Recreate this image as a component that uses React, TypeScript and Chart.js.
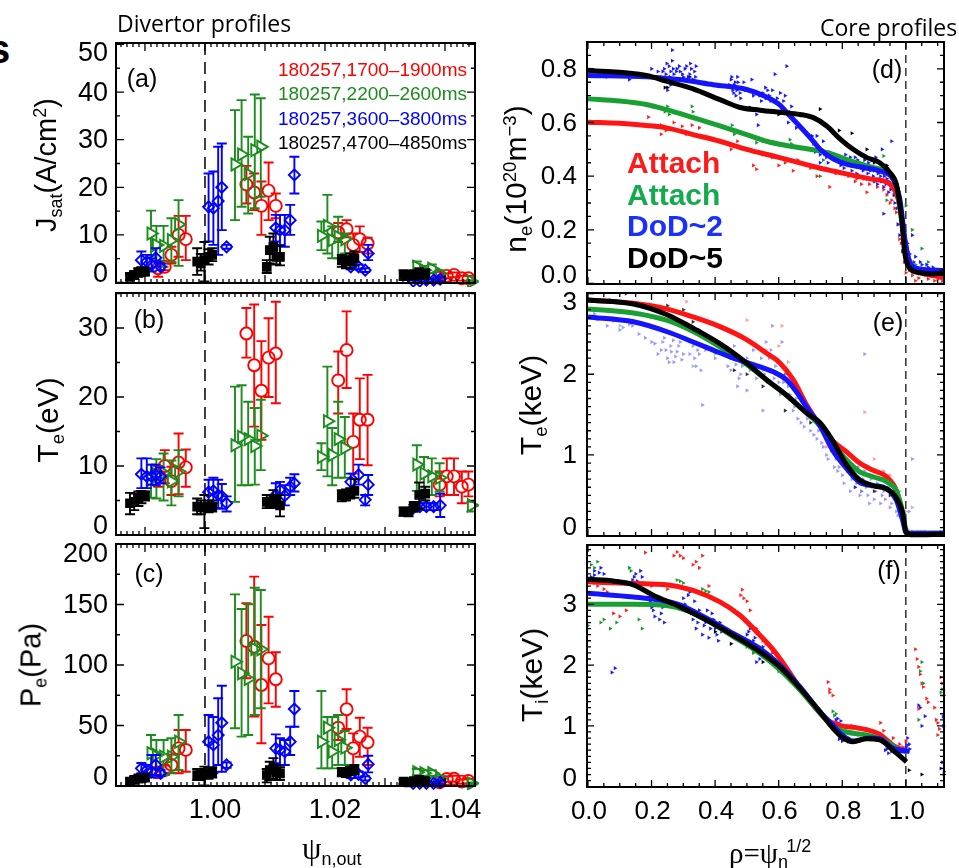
import { useEffect, useRef } from 'react';
import { Chart, registerables } from 'chart.js';

Chart.register(...registerables);

// ---------- Divertor Langmuir-probe data (outer target, psi_n) ----------
const psiRed = [0.9922, 0.9933, 0.9944, 0.9956, 0.9968, 1.0069, 1.0082, 1.0094, 1.0106, 1.0118, 1.0222, 1.0236, 1.0247, 1.0258, 1.0271, 1.0391, 1.0403, 1.0415, 1.0428, 1.0439];
const psiGreen = [0.991, 0.9919, 0.9931, 0.9944, 0.9956, 1.005, 1.0061, 1.0072, 1.0083, 1.0093, 1.0194, 1.0204, 1.0212, 1.0222, 1.0233, 1.0353, 1.0365, 1.0378, 1.0391, 1.0444];
const psiBlue = [0.9894, 0.9903, 0.9911, 0.9918, 0.9926, 1.0006, 1.0014, 1.0022, 1.0028, 1.0036, 1.0118, 1.0125, 1.0133, 1.0142, 1.0149, 1.0243, 1.0256, 1.0267, 1.0272, 1.0347, 1.0358, 1.0369, 1.0381, 1.0392];
const psiBlack = [0.9875, 0.9882, 0.9889, 0.9894, 0.99, 0.9987, 0.9993, 0.9999, 1.0006, 1.0012, 1.0103, 1.0108, 1.0114, 1.0119, 1.0125, 1.0228, 1.0235, 1.0242, 1.0249, 1.0331, 1.0339, 1.0348, 1.0357, 1.0367];

// J_sat (A/cm^2)
const jsatRed = [3.0, 3.3, 5.8, 10.0, 9.1, 20.6, 18.9, 16.1, 19.3, 16.1, 10.5, 11.2, 7.9, 9.1, 8.2, 1.0, 1.4, 1.6, 0.9, 0.9];
const jsatRedLo = [1.2, 2.6, 4.0, 5.4, 4.7, 16.6, 15.2, 10.0, 13.1, 13.5, 8.5, 9.5, 6.1, 6.4, 6.1, 0.5, 0.9, 1.1, 0.4, 0.4];
const jsatRedHi = [4.4, 4.0, 7.5, 14.0, 14.0, 24.5, 22.9, 21.2, 25.2, 18.7, 12.5, 13.1, 10.3, 11.8, 9.4, 1.5, 1.9, 2.1, 1.4, 1.4];
const jsatGreen = [10.3, 7.9, 7.7, 8.9, 12.2, 24.8, 26.9, 22.8, 27.8, 28.5, 9.8, 11.9, 8.9, 9.6, 9.1, 3.3, 2.6, 2.9, 1.9, 0.2];
const jsatGreenLo = [5.6, 4.7, 3.3, 4.3, 3.5, 13.1, 15.9, 14.5, 15.6, 18.0, 6.8, 6.1, 5.1, 5.1, 6.1, 2.3, 1.8, 2.0, 1.2, 0.0];
const jsatGreenHi = [15.1, 11.9, 11.9, 13.5, 17.3, 36.2, 38.3, 30.6, 39.5, 38.7, 12.8, 18.4, 11.8, 13.8, 10.3, 4.4, 3.5, 3.8, 2.6, 0.5];
const jsatBlue = [4.7, 4.4, 3.7, 5.2, 3.3, 15.9, 15.6, 17.1, 20.0, 7.5, 11.5, 11.0, 11.0, 13.1, 22.6, 3.3, 3.3, 2.6, 6.1, 0.3, 0.3, 0.5, 0.5, 0.7];
const jsatBlueLo = [3.0, 3.0, 2.3, 3.3, 2.6, 8.6, 7.9, 5.8, 11.0, 7.1, 8.6, 7.9, 7.5, 10.0, 18.7, 2.8, 2.8, 2.2, 4.7, 0.0, 0.0, 0.1, 0.1, 0.3];
const jsatBlueHi = [6.5, 5.8, 5.1, 7.2, 4.0, 22.9, 23.3, 28.5, 29.2, 7.9, 14.2, 14.2, 14.2, 16.3, 26.4, 3.8, 3.8, 3.0, 7.9, 0.6, 0.6, 0.9, 0.9, 1.1];
const jsatBlack = [1.2, 1.6, 2.1, 2.3, 2.3, 4.4, 4.0, 4.7, 5.4, 5.8, 3.3, 6.8, 7.5, 5.4, 5.4, 4.7, 4.4, 4.7, 5.1, 1.6, 1.4, 1.6, 1.9, 1.8];
const jsatBlackLo = [0.5, 0.8, 1.2, 1.4, 1.5, 1.6, 2.5, 0.2, 3.8, 4.5, 2.0, 4.0, 4.7, 3.8, 3.6, 3.3, 3.0, 3.0, 3.6, 0.5, 0.5, 0.5, 0.8, 0.8];
const jsatBlackHi = [1.9, 2.4, 3.0, 3.2, 3.1, 7.2, 6.0, 8.5, 7.0, 7.2, 4.7, 9.6, 10.3, 7.7, 7.7, 5.8, 5.5, 6.1, 6.5, 2.6, 2.4, 2.6, 3.0, 2.8];

// T_e at the target (eV)
const teDivRed = [8.5, 10.0, 7.8, 10.5, 9.8, 29.2, 24.6, 20.9, 25.7, 26.3, 22.4, 26.8, 13.5, 16.7, 16.7, 7.3, 8.5, 8.5, 7.0, 7.3];
const teDivRedLo = [7.0, 7.5, 5.8, 5.9, 7.0, 25.7, 15.7, 13.8, 20.0, 19.1, 17.6, 21.3, 8.9, 11.0, 10.1, 5.6, 5.8, 5.8, 4.6, 5.6];
const teDivRedHi = [10.0, 12.3, 9.9, 14.7, 12.4, 32.9, 33.4, 28.1, 31.4, 33.8, 26.6, 32.4, 17.6, 22.7, 23.2, 9.2, 11.1, 11.1, 9.2, 9.2];
const teDivGreen = [8.0, 8.8, 9.0, 7.8, 9.2, 13.0, 14.2, 13.9, 12.9, 14.4, 11.3, 16.5, 11.6, 13.9, 12.6, 10.2, 8.9, 8.5, 8.3, 4.3];
const teDivGreenLo = [5.4, 5.3, 5.0, 4.3, 5.6, 4.8, 7.2, 7.2, 7.3, 9.4, 9.4, 8.5, 7.2, 8.3, 8.3, 6.4, 5.8, 5.8, 6.3, 3.4];
const teDivGreenHi = [10.2, 11.0, 11.8, 10.8, 12.3, 21.5, 21.7, 19.3, 18.4, 19.6, 13.3, 24.4, 15.5, 19.3, 17.1, 13.0, 11.3, 11.1, 10.4, 4.8];
const teDivBlue = [8.8, 8.5, 8.5, 8.7, 8.5, 6.2, 6.4, 5.8, 5.6, 4.6, 5.8, 6.5, 5.7, 7.0, 7.5, 7.7, 8.7, 5.1, 7.3, 3.9, 4.1, 4.1, 4.1, 4.3];
const teDivBlueLo = [6.8, 6.8, 7.3, 7.2, 7.5, 4.4, 4.6, 3.9, 3.8, 3.4, 4.1, 4.8, 4.3, 5.8, 6.3, 6.5, 7.3, 4.3, 5.8, 3.4, 3.6, 3.6, 3.6, 2.6];
const teDivBlueHi = [11.1, 11.1, 10.2, 10.2, 9.8, 8.0, 8.3, 8.0, 7.4, 5.6, 7.5, 7.7, 7.2, 8.3, 8.8, 8.9, 10.2, 5.8, 8.7, 4.4, 4.6, 4.6, 4.6, 6.0];
const teDivBlack = [4.6, 4.8, 5.3, 5.7, 5.7, 4.1, 4.0, 4.0, 4.1, 4.1, 4.8, 4.8, 5.1, 4.9, 4.3, 5.7, 5.8, 6.0, 6.4, 3.4, 3.3, 4.1, 5.8, 6.0];
const teDivBlackLo = [3.0, 3.6, 4.2, 4.6, 5.0, 3.0, 3.0, 1.0, 3.3, 3.4, 3.9, 3.9, 4.1, 4.0, 2.7, 4.9, 5.0, 5.3, 5.4, 2.8, 2.7, 3.4, 3.8, 5.0];
const teDivBlackHi = [6.1, 6.0, 6.3, 6.4, 6.3, 5.3, 5.0, 5.8, 5.0, 5.0, 5.8, 5.8, 6.5, 5.7, 5.8, 6.5, 6.6, 6.8, 8.1, 4.0, 3.9, 4.8, 7.6, 7.0];

// P_e at the target (Pa)
const peRed = [11.3, 13.2, 17.4, 31.1, 29.8, 119.8, 115.1, 83.5, 105.5, 88.2, 48.2, 63.4, 31.1, 40.8, 36.1, 3.0, 5.8, 6.0, 3.6, 4.1];
const peRedLo = [7.0, 9.0, 11.0, 10.5, 11.8, 89, 57.3, 35.3, 68.3, 65.5, 38.0, 47.1, 17.4, 24.2, 17.4, 1.5, 3.5, 3.5, 1.8, 2.2];
const peRedHi = [15.6, 17.0, 26.0, 46.3, 46.3, 151, 173, 133, 139.9, 110.5, 58.7, 79.9, 43.5, 56.4, 48.2, 4.5, 8.0, 8.5, 5.4, 6.0];
const peGreen = [27.0, 25.6, 24.2, 24.2, 36.6, 102.7, 93.1, 88.4, 113.2, 113.0, 36.6, 48.2, 28.4, 38.0, 31.7, 11.3, 10.5, 10.5, 6.3, 2.2];
const peGreenLo = [9.1, 9.1, 9.1, 10.5, 13.2, 47.7, 40.8, 42.1, 58.7, 64.2, 14.6, 14.6, 14.6, 17.4, 17.4, 9.0, 8.5, 8.5, 5.0, 1.5];
const peGreenHi = [42.1, 38.0, 38.0, 39.5, 58.7, 158.4, 146.3, 150.2, 163.9, 162.0, 78.5, 57.0, 57.0, 58.7, 45.5, 14.0, 13.0, 13.0, 8.0, 3.0];
const peBlue = [14.6, 13.2, 11.8, 17.4, 10.5, 36.6, 33.9, 42.1, 52.3, 17.4, 31.1, 29.8, 28.4, 36.6, 63.6, 9.1, 9.6, 6.3, 17.9, 2.2, 2.2, 2.2, 2.2, 3.0];
const peBlueLo = [10.5, 9.1, 7.0, 9.1, 8.0, 11.8, 10.5, 17.4, 11.8, 15.0, 18.8, 17.4, 17.4, 25.6, 49.0, 6.5, 7.0, 4.5, 11.3, 1.0, 1.0, 1.0, 1.0, 1.5];
const peBlueHi = [19.0, 17.5, 25.6, 25.6, 13.0, 58.7, 57.0, 72.5, 82.9, 19.5, 42.7, 39.5, 38.0, 49.0, 78.5, 11.5, 12.0, 8.0, 25.0, 3.5, 3.5, 3.5, 3.5, 4.5];
const peBlack = [3.6, 5.0, 6.3, 6.3, 6.9, 9.1, 9.1, 9.6, 10.5, 11.3, 9.1, 13.2, 14.6, 11.3, 10.5, 11.8, 11.3, 12.4, 13.2, 3.6, 3.0, 4.1, 5.0, 4.1];
const peBlackLo = [1.5, 2.5, 3.5, 3.5, 4.0, 5.0, 5.0, 0.5, 6.0, 7.0, 3.0, 5.0, 6.0, 5.0, 5.0, 8.0, 7.5, 9.0, 10.0, 1.5, 1.5, 2.0, 3.0, 2.0];
const peBlackHi = [6.0, 7.5, 9.0, 9.0, 10.0, 14.0, 14.0, 16.0, 15.0, 15.5, 14.0, 20.0, 23.0, 17.0, 15.5, 15.0, 15.0, 16.0, 17.5, 5.5, 5.0, 6.0, 7.0, 6.0];

const shotLabels = ['180257,1700–1900ms', '180257,2200–2600ms', '180257,3600–3800ms', '180257,4700–4850ms'];
const coreLabels = ['Attach', 'Attach', 'DoD~2', 'DoD~5'];

// ---------- Core profiles vs rho: fitted curves [rho, value] ----------
const neRedFit = [[0, 0.601], [0.1, 0.597], [0.184, 0.589], [0.247, 0.58], [0.331, 0.555], [0.415, 0.53], [0.499, 0.5], [0.583, 0.475], [0.646, 0.456], [0.709, 0.436], [0.771, 0.419], [0.834, 0.403], [0.897, 0.388], [0.95, 0.37], [0.981, 0.289], [0.997, 0.153], [1.018, 0.066], [1.065, 0.035], [1.117, 0.023]];
const neGreenFit = [[0, 0.688], [0.1, 0.68], [0.184, 0.667], [0.247, 0.648], [0.331, 0.618], [0.415, 0.587], [0.499, 0.555], [0.562, 0.53], [0.625, 0.514], [0.688, 0.502], [0.73, 0.494], [0.771, 0.481], [0.813, 0.463], [0.876, 0.438], [0.939, 0.413], [0.971, 0.364], [0.992, 0.19], [1.012, 0.079], [1.055, 0.048], [1.117, 0.044]];
const neBlueFit = [[0, 0.775], [0.184, 0.77], [0.289, 0.76], [0.394, 0.741], [0.499, 0.723], [0.562, 0.695], [0.604, 0.665], [0.635, 0.625], [0.667, 0.585], [0.709, 0.53], [0.73, 0.5], [0.771, 0.465], [0.813, 0.445], [0.866, 0.432], [0.918, 0.419], [0.96, 0.388], [0.981, 0.314], [0.997, 0.165], [1.012, 0.079], [1.044, 0.054], [1.117, 0.048]];
const neBlackFit = [[0, 0.795], [0.184, 0.775], [0.247, 0.754], [0.331, 0.725], [0.415, 0.685], [0.478, 0.656], [0.541, 0.646], [0.604, 0.638], [0.667, 0.63], [0.709, 0.618], [0.751, 0.587], [0.792, 0.54], [0.834, 0.5], [0.876, 0.47], [0.918, 0.45], [0.95, 0.413], [0.971, 0.364], [0.986, 0.25], [0.997, 0.11], [1.013, 0.055], [1.044, 0.04], [1.086, 0.035], [1.117, 0.038]];

const teRedFit = [[0, 2.92], [0.143, 2.88], [0.247, 2.81], [0.331, 2.71], [0.415, 2.59], [0.499, 2.43], [0.562, 2.26], [0.604, 2.14], [0.646, 1.93], [0.688, 1.62], [0.73, 1.37], [0.771, 1.17], [0.813, 1.04], [0.855, 0.9], [0.897, 0.81], [0.939, 0.73], [0.971, 0.55], [0.986, 0.3], [1.002, 0.05], [1.023, 0.02], [1.117, 0.03]];
const teGreenFit = [[0, 2.81], [0.143, 2.76], [0.247, 2.67], [0.331, 2.53], [0.415, 2.34], [0.499, 2.12], [0.562, 1.93], [0.625, 1.74], [0.688, 1.52], [0.73, 1.36], [0.771, 1.14], [0.813, 0.94], [0.855, 0.79], [0.897, 0.73], [0.939, 0.67], [0.971, 0.55], [0.992, 0.26], [1.002, 0.03], [1.117, 0.03]];
const teBlueFit = [[0, 2.71], [0.143, 2.65], [0.247, 2.53], [0.331, 2.4], [0.394, 2.3], [0.457, 2.2], [0.52, 2.12], [0.583, 2.03], [0.625, 1.93], [0.656, 1.78], [0.69, 1.58], [0.73, 1.36], [0.771, 1.05], [0.81, 0.85], [0.855, 0.66], [0.897, 0.62], [0.93, 0.6], [0.97, 0.44], [0.99, 0.19], [1.002, 0.03], [1.117, 0.03]];
const teBlackFit = [[0, 2.92], [0.143, 2.87], [0.247, 2.74], [0.331, 2.57], [0.415, 2.38], [0.499, 2.14], [0.562, 1.93], [0.625, 1.74], [0.688, 1.52], [0.73, 1.4], [0.771, 1.17], [0.81, 0.9], [0.855, 0.69], [0.897, 0.62], [0.939, 0.58], [0.965, 0.5], [0.99, 0.28], [1.0, 0.05], [1.023, 0.01], [1.117, 0.02]];

const tiRedFit = [[0, 3.37], [0.143, 3.34], [0.247, 3.32], [0.331, 3.23], [0.415, 3.04], [0.478, 2.82], [0.53, 2.55], [0.583, 2.25], [0.625, 1.95], [0.667, 1.62], [0.709, 1.34], [0.751, 1.1], [0.792, 1.01], [0.855, 0.96], [0.918, 0.86], [0.96, 0.68], [1.002, 0.58]];
const tiGreenFit = [[0, 3.0], [0.143, 3.0], [0.247, 2.98], [0.31, 2.9], [0.373, 2.74], [0.457, 2.47], [0.541, 2.19], [0.604, 1.92], [0.667, 1.59], [0.73, 1.21], [0.771, 0.99], [0.813, 0.9], [0.876, 0.85], [0.939, 0.74], [0.981, 0.6], [1.002, 0.58]];
const tiBlueFit = [[0, 3.18], [0.143, 3.12], [0.226, 3.07], [0.289, 2.99], [0.373, 2.77], [0.457, 2.52], [0.541, 2.27], [0.604, 2.0], [0.667, 1.64], [0.73, 1.23], [0.771, 1.01], [0.8, 0.85], [0.834, 0.75], [0.886, 0.8], [0.918, 0.79], [0.96, 0.63], [1.012, 0.58]];
const tiBlackFit = [[0, 3.41], [0.084, 3.38], [0.143, 3.32], [0.205, 3.15], [0.289, 2.96], [0.373, 2.74], [0.457, 2.49], [0.541, 2.22], [0.604, 1.97], [0.667, 1.62], [0.73, 1.23], [0.771, 0.96], [0.798, 0.82], [0.834, 0.74], [0.876, 0.79], [0.918, 0.77], [0.96, 0.6], [1.002, 0.41]];

// ---------- Core measurements [rho, value] ----------
const neBluePts = [[0.06, 0.77], [0.09, 0.775], [0.13, 0.76], [0.15, 0.78], [0.2, 0.8], [0.215, 0.77], [0.22, 0.79], [0.23, 0.77], [0.235, 0.79], [0.24, 0.8], [0.245, 0.78], [0.248, 0.82], [0.25, 0.76], [0.255, 0.81], [0.258, 0.77], [0.26, 0.79], [0.265, 0.87], [0.265, 0.83], [0.268, 0.8], [0.27, 0.78], [0.275, 0.76], [0.278, 0.79], [0.28, 0.8], [0.287, 0.81], [0.29, 0.79], [0.297, 0.78], [0.3, 0.77], [0.305, 0.8], [0.31, 0.81], [0.315, 0.77], [0.32, 0.78], [0.322, 0.82], [0.325, 0.8], [0.33, 0.76], [0.335, 0.79], [0.338, 0.77], [0.34, 0.81], [0.25, 0.72], [0.26, 0.74], [0.445, 0.74], [0.45, 0.76], [0.452, 0.77], [0.455, 0.72], [0.458, 0.71], [0.46, 0.74], [0.463, 0.75], [0.465, 0.7], [0.468, 0.72], [0.47, 0.77], [0.472, 0.75], [0.475, 0.73], [0.478, 0.71], [0.48, 0.69], [0.485, 0.73], [0.49, 0.75], [0.495, 0.72], [0.515, 0.76], [0.52, 0.7], [0.53, 0.63], [0.535, 0.59], [0.54, 0.7], [0.545, 0.68], [0.55, 0.71], [0.558, 0.73], [0.56, 0.69], [0.565, 0.72], [0.57, 0.7], [0.575, 0.68], [0.58, 0.72], [0.588, 0.78], [0.595, 0.69], [0.6, 0.67], [0.605, 0.71], [0.61, 0.65], [0.615, 0.68], [0.62, 0.7], [0.625, 0.81], [0.63, 0.6], [0.635, 0.64], [0.64, 0.66], [0.645, 0.61], [0.65, 0.63], [0.655, 0.58], [0.705, 0.55], [0.71, 0.52], [0.715, 0.49], [0.72, 0.55], [0.725, 0.51], [0.728, 0.43], [0.73, 0.48], [0.73, 0.45], [0.735, 0.5], [0.74, 0.53], [0.745, 0.48], [0.75, 0.47], [0.755, 0.45], [0.76, 0.49], [0.79, 0.47], [0.795, 0.44], [0.8, 0.46], [0.805, 0.43], [0.81, 0.48], [0.815, 0.45], [0.82, 0.44], [0.825, 0.47], [0.83, 0.42], [0.835, 0.44], [0.84, 0.47], [0.845, 0.41], [0.848, 0.46], [0.85, 0.45], [0.855, 0.4], [0.858, 0.44], [0.86, 0.43], [0.865, 0.42], [0.868, 0.48], [0.87, 0.46], [0.875, 0.43], [0.878, 0.39], [0.88, 0.41], [0.882, 0.45], [0.885, 0.44], [0.888, 0.42], [0.89, 0.39], [0.893, 0.46], [0.897, 0.4], [0.9, 0.42], [0.902, 0.38], [0.905, 0.47], [0.907, 0.43], [0.91, 0.37], [0.912, 0.41], [0.915, 0.43], [0.918, 0.45], [0.92, 0.4], [0.922, 0.38], [0.925, 0.5], [0.927, 0.42], [0.93, 0.36], [0.932, 0.4], [0.935, 0.42], [0.937, 0.37], [0.94, 0.39], [0.942, 0.43], [0.945, 0.34], [0.947, 0.38], [0.95, 0.41], [0.952, 0.35], [0.955, 0.53], [0.957, 0.4], [0.96, 0.37], [0.962, 0.33], [0.965, 0.3], [0.967, 0.36], [0.97, 0.33], [0.972, 0.28], [0.93, 0.26], [0.975, 0.22], [0.977, 0.31], [0.98, 0.18], [0.982, 0.24], [0.985, 0.25], [0.987, 0.2], [0.99, 0.12], [0.992, 0.16], [0.995, 0.2], [0.997, 0.12], [1.0, 0.08], [1.002, 0.1], [1.005, 0.15], [1.007, 0.09], [1.01, 0.06], [1.012, 0.11], [1.017, 0.07], [1.02, 0.18], [1.025, 0.08], [1.03, 0.1], [1.035, 0.06], [1.04, 0.05], [1.045, 0.08], [1.05, 0.07], [1.055, 0.05], [1.06, 0.04], [1.065, 0.07], [1.07, 0.06], [1.075, 0.04], [1.08, 0.03], [1.085, 0.06], [1.09, 0.05], [1.095, 0.03], [1.1, 0.04], [1.105, 0.05], [1.11, 0.03], [1.112, 0.02], [1.115, 0.05]];
const neRedPts = [[0.19, 0.62], [0.23, 0.59], [0.23, 0.556], [0.245, 0.57], [0.27, 0.6], [0.296, 0.586], [0.31, 0.556], [0.327, 0.59], [0.36, 0.545], [0.35, 0.58], [0.45, 0.5], [0.47, 0.53], [0.52, 0.44], [0.53, 0.426], [0.55, 0.48], [0.58, 0.47], [0.6, 0.44], [0.62, 0.45], [0.645, 0.42], [0.66, 0.46], [0.7, 0.43], [0.72, 0.4], [0.76, 0.36], [0.78, 0.41], [0.82, 0.4], [0.84, 0.38], [0.845, 0.39], [0.86, 0.37], [0.87, 0.39], [0.877, 0.34], [0.885, 0.37], [0.9, 0.38], [0.91, 0.36], [0.925, 0.38], [0.93, 0.35], [0.94, 0.33], [0.95, 0.3], [0.955, 0.31], [0.965, 0.28], [0.97, 0.265], [0.975, 0.22], [0.98, 0.165], [0.985, 0.15], [0.99, 0.12], [0.995, 0.08], [1.0, 0.04], [1.01, 0.05], [1.02, 0.03], [1.03, 0.01], [1.04, 0.02], [1.06, 0.03], [1.07, 0.017], [1.09, 0.01], [1.1, 0.015], [1.115, 0.01]];
const neGreenPts = [[0.242, 0.64], [0.25, 0.66], [0.255, 0.63], [0.327, 0.66], [0.33, 0.64], [0.453, 0.59], [0.46, 0.556], [0.47, 0.57], [0.53, 0.525], [0.55, 0.53], [0.635, 0.536], [0.64, 0.52], [0.73, 0.4], [0.74, 0.46], [0.8, 0.47], [0.85, 0.44], [0.93, 0.475], [0.94, 0.31], [0.96, 0.35], [0.975, 0.3], [0.99, 0.2], [1.0, 0.29], [1.005, 0.12], [1.02, 0.2], [1.03, 0.07], [1.05, 0.13], [1.06, 0.05], [1.07, 0.08], [1.085, 0.03], [1.1, 0.04]];
const neBlackPts = [[0.242, 0.73], [0.25, 0.73], [0.32, 0.77], [0.4, 0.74], [0.51, 0.656], [0.6, 0.63], [0.7, 0.62], [0.73, 0.65], [0.79, 0.57], [0.83, 0.56], [0.877, 0.5], [0.9, 0.45], [0.94, 0.44], [0.965, 0.33], [0.99, 0.12], [1.02, 0.05]];

const teBluePts = [[0.02, 2.75], [0.03, 2.68], [0.05, 2.7], [0.06, 2.6], [0.08, 2.66], [0.1, 2.55], [0.11, 2.58], [0.13, 2.62], [0.14, 2.6], [0.16, 2.5], [0.18, 2.45], [0.2, 2.4], [0.21, 2.38], [0.22, 2.25], [0.23, 2.3], [0.235, 2.4], [0.24, 2.45], [0.245, 2.3], [0.25, 2.2], [0.255, 2.15], [0.26, 2.35], [0.262, 2.28], [0.268, 2.42], [0.27, 2.15], [0.275, 2.22], [0.28, 2.28], [0.285, 2.35], [0.29, 2.4], [0.295, 2.18], [0.3, 2.25], [0.32, 2.25], [0.33, 2.35], [0.335, 2.2], [0.34, 2.1], [0.345, 2.3], [0.35, 2.25], [0.355, 2.05], [0.36, 1.62], [0.37, 2.3], [0.4, 2.2], [0.44, 2.1], [0.45, 2.05], [0.455, 2.25], [0.46, 2.35], [0.465, 2.12], [0.47, 1.85], [0.475, 1.95], [0.48, 2.0], [0.485, 2.1], [0.5, 1.8], [0.5, 2.2], [0.51, 2.05], [0.52, 2.3], [0.53, 1.95], [0.54, 2.1], [0.545, 2.2], [0.55, 1.55], [0.555, 2.0], [0.56, 2.4], [0.565, 1.9], [0.57, 2.2], [0.575, 2.3], [0.58, 2.6], [0.585, 1.95], [0.59, 2.1], [0.595, 2.15], [0.6, 1.9], [0.605, 1.75], [0.61, 2.4], [0.615, 1.9], [0.62, 2.0], [0.63, 1.85], [0.635, 1.75], [0.64, 1.7], [0.645, 1.55], [0.65, 1.6], [0.655, 1.7], [0.66, 1.45], [0.67, 1.4], [0.68, 1.35], [0.69, 1.45], [0.7, 1.3], [0.71, 1.25], [0.72, 1.2], [0.725, 1.3], [0.73, 1.4], [0.735, 1.15], [0.74, 1.1], [0.745, 1.25], [0.75, 1.0], [0.755, 0.95], [0.76, 1.15], [0.765, 1.05], [0.775, 0.85], [0.78, 0.95], [0.785, 0.8], [0.79, 0.85], [0.795, 0.95], [0.8, 0.75], [0.805, 0.65], [0.815, 0.8], [0.82, 0.9], [0.825, 0.55], [0.83, 0.7], [0.835, 0.75], [0.84, 0.6], [0.845, 0.65], [0.85, 0.85], [0.855, 0.5], [0.86, 0.55], [0.865, 0.7], [0.87, 0.8], [0.875, 0.6], [0.88, 0.5], [0.885, 0.4], [0.89, 0.7], [0.895, 0.6], [0.9, 0.45], [0.905, 0.55], [0.91, 0.65], [0.915, 0.7], [0.92, 0.4], [0.925, 0.5], [0.93, 0.55], [0.935, 0.45], [0.94, 0.75], [0.945, 0.6], [0.95, 0.35], [0.955, 0.4], [0.96, 0.5], [0.965, 0.55], [0.97, 0.3], [0.975, 0.25], [0.98, 0.45], [0.985, 0.35], [0.99, 0.2], [0.995, 0.15], [1.0, 0.1], [1.005, 0.08], [1.01, 0.3], [1.015, 0.02], [1.02, 0.05], [1.03, 0.04], [1.05, 0.02], [1.06, 0.05], [1.08, 0.03], [1.09, 0.04], [1.11, 0.05], [0.87, 2.25], [1.02, 0.95]];
const teRedPts = [[0.25, 2.75], [0.31, 2.9], [0.5, 2.67], [0.56, 2.3], [0.6, 2.35], [0.61, 2.6], [0.63, 2.15], [0.69, 1.5], [0.75, 1.1], [0.78, 1.05], [0.8, 1.02], [0.82, 1.0], [0.85, 0.92], [0.87, 1.53], [0.88, 0.85], [0.9, 0.95], [0.93, 0.8], [0.95, 0.75], [0.96, 0.6], [1.0, 0.3], [1.04, 0.05]];
const teGreenPts = [[0.1, 2.6], [0.2, 2.7], [0.33, 2.1], [0.4, 2.25], [0.55, 2.05], [0.62, 2.0], [0.7, 1.45], [0.78, 1.1], [0.82, 0.88], [0.84, 0.95], [0.86, 0.55], [0.92, 0.7], [0.95, 0.62], [0.98, 0.55], [1.02, 0.35], [1.05, 0.05]];
const teBlackPts = [[0.07, 2.92], [0.12, 3.0], [0.25, 2.85], [0.3, 2.8], [0.33, 2.65], [0.35, 2.55], [0.45, 2.2], [0.46, 2.05], [0.5, 2.0], [0.55, 1.85], [0.62, 1.55], [0.7, 1.4], [0.8, 0.95], [0.84, 0.6], [0.9, 0.55], [0.95, 0.5]];

const tiBluePts = [[0.01, 3.45], [0.02, 3.55], [0.02, 3.48], [0.03, 3.37], [0.035, 3.52], [0.04, 3.6], [0.045, 3.4], [0.05, 3.5], [0.14, 3.4], [0.145, 3.45], [0.15, 3.5], [0.155, 3.38], [0.16, 3.3], [0.165, 3.55], [0.17, 3.45], [0.16, 3.27], [0.175, 3.35], [0.18, 3.1], [0.185, 3.2], [0.195, 3.05], [0.2, 2.95], [0.205, 2.9], [0.21, 2.8], [0.215, 3.1], [0.22, 3.0], [0.225, 2.75], [0.23, 2.85], [0.235, 2.95], [0.24, 2.7], [0.075, 1.88], [0.085, 1.95], [0.3, 3.1], [0.305, 3.0], [0.31, 2.9], [0.315, 3.15], [0.32, 3.2], [0.325, 2.85], [0.33, 2.75], [0.335, 3.05], [0.34, 2.6], [0.345, 2.7], [0.35, 2.9], [0.355, 2.8], [0.36, 2.5], [0.365, 2.65], [0.37, 2.7], [0.375, 2.9], [0.38, 2.45], [0.385, 2.6], [0.39, 2.85], [0.395, 2.75], [0.4, 2.6], [0.405, 2.5], [0.41, 2.4], [0.415, 2.7], [0.42, 2.55], [0.5, 2.5], [0.505, 2.55], [0.51, 2.6], [0.515, 2.35], [0.52, 2.4], [0.525, 2.45], [0.53, 2.05], [0.535, 2.55], [0.54, 2.1], [0.545, 2.2], [0.55, 2.3], [0.62, 1.85], [0.63, 1.8], [0.78, 1.1], [0.785, 1.12], [0.785, 1.05], [0.79, 0.78], [0.795, 1.08], [0.8, 0.75], [0.8, 0.76], [0.82, 0.74], [0.935, 0.6], [0.94, 0.62], [0.945, 0.55], [0.945, 0.68], [0.95, 0.65], [0.955, 0.58], [0.995, 0.6], [1.0, 0.64], [1.005, 0.8], [1.005, 0.68], [1.01, 0.7], [1.012, 0.62], [1.04, 1.34], [1.045, 1.3], [1.05, 1.0], [1.06, 1.16], [1.11, 0.3], [1.115, 0.4], [1.12, 0.25], [1.118, 1.0], [1.117, 1.15]];
const tiRedPts = [[0.0, 3.4], [0.02, 3.35], [0.03, 3.3], [0.05, 3.25], [0.06, 3.2], [0.08, 2.85], [0.1, 2.8], [0.12, 2.9], [0.18, 3.85], [0.2, 3.3], [0.25, 3.25], [0.27, 3.8], [0.28, 3.86], [0.29, 3.8], [0.3, 3.76], [0.33, 3.65], [0.34, 3.7], [0.35, 3.6], [0.36, 3.8], [0.38, 3.3], [0.48, 3.15], [0.485, 3.24], [0.49, 3.1], [0.5, 3.05], [0.51, 2.9], [0.53, 2.6], [0.55, 2.4], [0.56, 2.35], [0.58, 2.2], [0.755, 1.72], [0.76, 1.6], [0.76, 1.55], [0.77, 1.5], [0.83, 1.0], [0.84, 0.98], [0.86, 0.95], [0.88, 0.95], [0.9, 0.9], [0.92, 1.05], [0.93, 0.92], [0.95, 0.75], [0.96, 0.8], [0.98, 0.7], [0.99, 0.65], [1.0, 0.75], [1.03, 2.26], [1.035, 2.1], [1.04, 1.97], [1.045, 1.85], [1.05, 1.7], [1.055, 1.64], [1.065, 1.45], [1.07, 1.39], [1.09, 1.3], [1.095, 1.1], [1.1, 1.05], [1.1, 0.85], [1.105, 0.95], [1.11, 1.8], [1.115, 1.7], [1.04, 1.28]];
const tiGreenPts = [[0.0, 2.65], [0.01, 3.65], [0.02, 3.6], [0.03, 3.7], [0.04, 2.7], [0.05, 2.75], [0.07, 2.6], [0.09, 2.7], [0.13, 3.6], [0.135, 3.55], [0.16, 2.75], [0.17, 2.6], [0.28, 3.4], [0.29, 3.38], [0.3, 3.35], [0.36, 3.25], [0.37, 3.22], [0.38, 3.2], [0.5, 2.3], [0.52, 2.2], [0.6, 1.9], [0.77, 1.24], [0.775, 1.17], [0.78, 1.2], [0.85, 0.85], [0.88, 0.85], [0.95, 0.7], [1.04, 1.1], [1.045, 1.9], [1.05, 2.05], [1.055, 1.7], [1.11, 1.55], [1.115, 1.6], [1.12, 1.5]];
const tiBlackPts = [[0.15, 3.35], [0.4, 2.55], [0.45, 2.35], [0.55, 2.05], [0.82, 0.8], [1.01, 0.27], [1.05, 0.2], [1.12, 0.2]];

// ---------- Axis ticks ----------
const psiTicks = [1.0, 1.02, 1.04];
const rhoTicks = [0, 0.2, 0.4, 0.6, 0.8, 1.0];
const jsatTicks = [0, 10, 20, 30, 40, 50];
const teDivTicks = [0, 10, 20, 30];
const peTicks = [0, 50, 100, 150, 200];
const neTicks = [0, 0.2, 0.4, 0.6, 0.8];
const keVTicks = [0, 1, 2, 3];

// ---------- Styling ----------
const SANS = '"Liberation Sans", Arial, Helvetica, sans-serif';
const SERIF = '"Liberation Serif", "Times New Roman", serif';
const HEAD = '"Open Sans", "Noto Sans", sans-serif';

const C_RED = '#ff0000';
const C_GREEN = '#1c8c1c';
const C_BLUE = '#0000ff';
const C_BLACK = '#000000';

const MARK: Record<string, any> = {
  red: { color: C_RED, style: 'circle', rot: 0, r: 6, fill: 'rgba(0,0,0,0)', gap: 6, order: 4 },
  green: { color: C_GREEN, style: 'triangle', rot: 90, r: 7, fill: 'rgba(0,0,0,0)', gap: 4, order: 3 },
  blue: { color: C_BLUE, style: 'rectRot', rot: 0, r: 5.5, fill: 'rgba(0,0,0,0)', gap: 0, order: 2 },
  black: { color: C_BLACK, style: 'rect', rot: 0, r: 5.5, fill: C_BLACK, gap: 0, order: 1 },
};

const xy = (xs: number[], ys: number[]) => xs.map((x, i) => ({ x, y: ys[i] }));
const pairs = (p: number[][]) => p.map(([x, y]) => ({ x, y }));

function probes(xs: number[], ys: number[], lo: number[], hi: number[], kind: string) {
  const m = MARK[kind];
  return {
    data: xy(xs, ys),
    errLo: lo,
    errHi: hi,
    errGap: m.gap,
    showLine: false,
    borderColor: m.color,
    pointStyle: m.style,
    pointRotation: m.rot,
    pointRadius: m.r,
    pointBorderWidth: 1.9,
    pointBorderColor: m.color,
    pointBackgroundColor: m.fill,
    order: m.order,
    clip: 4,
  };
}

function fit(p: number[][], color: string, order: number) {
  return {
    data: pairs(p),
    showLine: true,
    borderColor: color,
    borderWidth: 5,
    pointRadius: 0,
    cubicInterpolationMode: 'monotone',
    order,
    clip: 3,
  };
}

function cloud(p: number[][], color: string) {
  return {
    data: pairs(p),
    showLine: false,
    pointStyle: 'triangle',
    pointRotation: 90,
    pointRadius: 2.4,
    pointBorderWidth: 0,
    pointBackgroundColor: color,
    order: 20,
    clip: 2,
  };
}

type Spec = {
  box: number[];
  xr: number[];
  yr: number[];
  xTicks: number[];
  xDigits: number;
  showX: boolean;
  xLabelOffset: number;
  xFont: number;
  yTicks: number[];
  yDigits: number;
  yPad: number;
  yFont: number;
  xMajor: number;
  xMinor: number;
  yMajor: number;
  yMinor: number;
  tickLen: number[];
  dashX: number;
  dash: number[];
  dashWidth: number;
  datasets: any[];
};

const PAD_L = 100;
const PAD_T = 10;
const PAD_R = 14;

function minorLoop(min: number, max: number, minor: number, major: number, fn: (v: number, isMajor: boolean) => void) {
  const i0 = Math.ceil(min / minor - 1e-9);
  const i1 = Math.floor(max / minor + 1e-9);
  for (let i = i0; i <= i1; i++) {
    const v = i * minor;
    const q = v / major;
    fn(v, Math.abs(q - Math.round(q)) < 1e-6);
  }
}

function Panel({ spec }: { spec: Spec }) {
  const ref = useRef<HTMLCanvasElement>(null);
  const [x0, y0, x1, y1] = spec.box;
  const B = spec.showX ? 56 : 6;
  const W = x1 - x0 + PAD_L + PAD_R;
  const H = y1 - y0 + PAD_T + B;

  useEffect(() => {
    const deco = {
      id: 'deco',
      beforeDatasetsDraw(chart: any) {
        const { ctx, chartArea: a } = chart;
        const px = chart.scales.x.getPixelForValue(spec.dashX);
        ctx.save();
        ctx.strokeStyle = '#000';
        ctx.lineWidth = spec.dashWidth;
        ctx.setLineDash(spec.dash);
        ctx.beginPath();
        ctx.moveTo(px, a.top);
        ctx.lineTo(px, a.bottom);
        ctx.stroke();
        ctx.restore();
      },
      beforeDatasetDraw(chart: any, args: any) {
        const ds = chart.data.datasets[args.index];
        if (!ds.errLo) return;
        const { ctx, chartArea: a } = chart;
        const ys = chart.scales.y;
        ctx.save();
        ctx.beginPath();
        ctx.rect(a.left, a.top - 2, a.right - a.left, a.bottom - a.top + 4);
        ctx.clip();
        ctx.strokeStyle = ds.borderColor;
        ctx.lineWidth = 1.9;
        const cap = 5;
        args.meta.data.forEach((el: any, i: number) => {
          const px = el.x;
          const py = el.y;
          const pHi = ys.getPixelForValue(ds.errHi[i]);
          const pLo = ys.getPixelForValue(ds.errLo[i]);
          const g = ds.errGap;
          ctx.beginPath();
          if (pHi < py - g) {
            ctx.moveTo(px, pHi);
            ctx.lineTo(px, py - g);
          }
          if (pLo > py + g) {
            ctx.moveTo(px, py + g);
            ctx.lineTo(px, pLo);
          }
          ctx.moveTo(px - cap, pHi);
          ctx.lineTo(px + cap, pHi);
          ctx.moveTo(px - cap, pLo);
          ctx.lineTo(px + cap, pLo);
          ctx.stroke();
        });
        ctx.restore();
      },
      afterDatasetsDraw(chart: any) {
        const { ctx, chartArea: a } = chart;
        const xs = chart.scales.x;
        const ys = chart.scales.y;
        const [maj, mnr] = spec.tickLen;
        ctx.save();
        ctx.strokeStyle = '#000';
        ctx.lineWidth = 1.3;
        ctx.beginPath();
        minorLoop(spec.xr[0], spec.xr[1], spec.xMinor, spec.xMajor, (v, isMajor) => {
          const p = xs.getPixelForValue(v);
          const len = isMajor ? maj : mnr;
          ctx.moveTo(p, a.bottom);
          ctx.lineTo(p, a.bottom - len);
          ctx.moveTo(p, a.top);
          ctx.lineTo(p, a.top + len);
        });
        minorLoop(spec.yr[0], spec.yr[1], spec.yMinor, spec.yMajor, (v, isMajor) => {
          const p = ys.getPixelForValue(v);
          const len = isMajor ? maj : mnr;
          ctx.moveTo(a.left, p);
          ctx.lineTo(a.left + len, p);
          ctx.moveTo(a.right, p);
          ctx.lineTo(a.right - len, p);
        });
        ctx.stroke();
        ctx.lineWidth = 2;
        ctx.strokeRect(a.left, a.top, a.right - a.left, a.bottom - a.top);
        ctx.restore();
      },
      afterDraw(chart: any) {
        const { ctx, chartArea: a } = chart;
        const xs = chart.scales.x;
        const ys = chart.scales.y;
        ctx.save();
        ctx.fillStyle = '#000';
        ctx.textBaseline = 'middle';
        // value labels on the y axis, kept inside the frame height like the x labels
        ctx.font = `${spec.yFont}px ${SANS}`;
        ctx.textAlign = 'right';
        const half = spec.yFont * 0.34;
        spec.yTicks.forEach((v) => {
          let p = ys.getPixelForValue(v);
          p = Math.min(Math.max(p, a.top + half), a.bottom - half);
          ctx.fillText(v.toFixed(spec.yDigits), a.left - spec.yPad, p + 1);
        });
        if (spec.showX) {
          ctx.font = `${spec.xFont}px ${SANS}`;
          ctx.textAlign = 'center';
          spec.xTicks.forEach((v) => {
            const p = xs.getPixelForValue(v) + spec.xLabelOffset;
            ctx.fillText(v.toFixed(spec.xDigits), p, a.bottom + 25);
          });
        }
        ctx.restore();
      },
    };

    const chart = new Chart(ref.current as HTMLCanvasElement, {
      type: 'scatter',
      data: { datasets: spec.datasets },
      options: {
        animation: false,
        responsive: false,
        devicePixelRatio: 1,
        events: [],
        layout: { autoPadding: false, padding: { top: PAD_T, right: PAD_R, left: 0, bottom: 0 } },
        plugins: { legend: { display: false }, tooltip: { enabled: false } },
        scales: {
          x: {
            type: 'linear',
            min: spec.xr[0],
            max: spec.xr[1],
            grid: { display: false, drawTicks: false },
            border: { display: false },
            afterFit: (s: any) => {
              s.height = B;
            },
            afterBuildTicks: (s: any) => {
              s.ticks = spec.xTicks.map((value) => ({ value }));
            },
            ticks: { display: false },
          },
          y: {
            type: 'linear',
            min: spec.yr[0],
            max: spec.yr[1],
            grid: { display: false, drawTicks: false },
            border: { display: false },
            afterFit: (s: any) => {
              s.width = PAD_L;
            },
            afterBuildTicks: (s: any) => {
              s.ticks = spec.yTicks.map((value) => ({ value }));
            },
            ticks: { display: false },
          },
        },
      } as any,
      plugins: [deco],
    });
    return () => chart.destroy();
  }, []);

  return (
    <canvas
      ref={ref}
      width={W}
      height={H}
      style={{ position: 'absolute', left: x0 - PAD_L, top: y0 - PAD_T, width: W, height: H }}
    />
  );
}

// ---------- Panel layouts ----------
const leftCommon = {
  xr: [0.98517, 1.045],
  xTicks: psiTicks,
  xDigits: 2,
  xLabelOffset: 10,
  xFont: 27,
  yPad: 8,
  yFont: 27,
  xMajor: 0.01,
  xMinor: 0.001,
  tickLen: [8, 4],
  dashX: 1.0,
  dash: [12, 7],
  dashWidth: 1.5,
};

const rightCommon = {
  xr: [-0.003, 1.12],
  xTicks: rhoTicks,
  xDigits: 1,
  xLabelOffset: 1,
  xFont: 26,
  yPad: 10,
  yFont: 26,
  xMajor: 0.2,
  xMinor: 0.05,
  tickLen: [7, 4],
  dashX: 1.0,
  dash: [8, 5],
  dashWidth: 1.2,
};

const divSets = (r: number[][], g: number[][], b: number[][], k: number[][]) => [
  probes(psiRed, r[0], r[1], r[2], 'red'),
  probes(psiGreen, g[0], g[1], g[2], 'green'),
  probes(psiBlue, b[0], b[1], b[2], 'blue'),
  probes(psiBlack, k[0], k[1], k[2], 'black'),
];

const FIT_RED = '#ff1414';
const FIT_GREEN = '#18a032';
const FIT_BLUE = '#1414ff';
const PT_RED = '#ff2020';
const PT_GREEN = '#1a9a30';
const PT_BLUE = '#1a1aff';
const FADE_RED = 'rgba(255,40,40,0.45)';
const FADE_GREEN = 'rgba(30,150,50,0.45)';
const FADE_BLUE = 'rgba(30,30,255,0.45)';
const FADE_BLACK = 'rgba(0,0,0,0.8)';

const panels: Spec[] = [
  {
    ...leftCommon,
    box: [116, 43, 475, 283],
    yr: [-0.1, 50.3],
    showX: false,
    yTicks: jsatTicks,
    yDigits: 0,
    yMajor: 10,
    yMinor: 5,
    datasets: divSets(
      [jsatRed, jsatRedLo, jsatRedHi],
      [jsatGreen, jsatGreenLo, jsatGreenHi],
      [jsatBlue, jsatBlueLo, jsatBlueHi],
      [jsatBlack, jsatBlackLo, jsatBlackHi],
    ),
  },
  {
    ...leftCommon,
    box: [116, 293, 475, 535],
    yr: [0, 35.07],
    showX: false,
    yTicks: teDivTicks,
    yDigits: 0,
    yMajor: 10,
    yMinor: 5,
    datasets: divSets(
      [teDivRed, teDivRedLo, teDivRedHi],
      [teDivGreen, teDivGreenLo, teDivGreenHi],
      [teDivBlue, teDivBlueLo, teDivBlueHi],
      [teDivBlack, teDivBlackLo, teDivBlackHi],
    ),
  },
  {
    ...leftCommon,
    box: [116, 544, 475, 786],
    yr: [0, 200],
    showX: true,
    yTicks: peTicks,
    yDigits: 0,
    yMajor: 50,
    yMinor: 25,
    datasets: divSets(
      [peRed, peRedLo, peRedHi],
      [peGreen, peGreenLo, peGreenHi],
      [peBlue, peBlueLo, peBlueHi],
      [peBlack, peBlackLo, peBlackHi],
    ),
  },
  {
    ...rightCommon,
    box: [587, 42, 944, 284],
    yr: [-0.002, 0.9],
    showX: false,
    yTicks: neTicks,
    yDigits: 1,
    yMajor: 0.2,
    yMinor: 0.05,
    datasets: [
      cloud(neBluePts, PT_BLUE),
      cloud(neGreenPts, PT_GREEN),
      cloud(neRedPts, PT_RED),
      cloud(neBlackPts, C_BLACK),
      fit(neRedFit, FIT_RED, 4),
      fit(neGreenFit, FIT_GREEN, 3),
      fit(neBlueFit, FIT_BLUE, 2),
      fit(neBlackFit, C_BLACK, 1),
    ],
  },
  {
    ...rightCommon,
    box: [587, 293, 944, 536],
    yr: [-0.004, 3.007],
    showX: false,
    yTicks: keVTicks,
    yDigits: 0,
    yMajor: 1,
    yMinor: 0.1,
    datasets: [
      cloud(teBluePts, FADE_BLUE),
      cloud(teRedPts, FADE_RED),
      cloud(teGreenPts, FADE_GREEN),
      cloud(teBlackPts, FADE_BLACK),
      fit(teRedFit, FIT_RED, 4),
      fit(teGreenFit, FIT_GREEN, 3),
      fit(teBlueFit, FIT_BLUE, 2),
      fit(teBlackFit, C_BLACK, 1),
    ],
  },
  {
    ...rightCommon,
    box: [587, 545, 944, 787],
    yr: [-0.005, 3.975],
    showX: true,
    yTicks: keVTicks,
    yDigits: 0,
    yMajor: 1,
    yMinor: 0.1,
    datasets: [
      cloud(tiGreenPts, PT_GREEN),
      cloud(tiRedPts, PT_RED),
      cloud(tiBluePts, PT_BLUE),
      cloud(tiBlackPts, C_BLACK),
      fit(tiRedFit, FIT_RED, 4),
      fit(tiGreenFit, FIT_GREEN, 3),
      fit(tiBlueFit, FIT_BLUE, 2),
      fit(tiBlackFit, C_BLACK, 1),
    ],
  },
];

// ---------- Text helpers ----------
function Txt(props: any) {
  const { x, y, size, color = '#000', family = SANS, weight = 400, align = 'left', rotate = false, children } = props;
  const tx = align === 'left' ? '0' : align === 'right' ? '-100%' : '-50%';
  return (
    <div
      style={{
        position: 'absolute',
        left: x,
        top: y,
        transform: rotate ? 'translate(-50%,-50%) rotate(-90deg)' : `translate(${tx},-50%)`,
        fontSize: size,
        fontFamily: family,
        fontWeight: weight,
        color,
        lineHeight: 1,
        whiteSpace: 'nowrap',
      }}
    >
      {children}
    </div>
  );
}

const Sub = ({ children }: any) => (
  <span style={{ fontSize: '0.62em', position: 'relative', top: '0.32em' }}>{children}</span>
);
const Sup = ({ children }: any) => (
  <span style={{ fontSize: '0.62em', position: 'relative', top: '-0.55em' }}>{children}</span>
);

const shotColors = [C_RED, C_GREEN, C_BLUE, C_BLACK];
const coreColors = ['#ff1a1a', '#14aa4e', '#1a30ff', '#000000'];

export default function App() {
  return (
    <div style={{ position: 'absolute', left: 0, top: 0, width: 959, height: 868, background: '#fff', overflow: 'hidden' }}>
      {panels.map((p, i) => (
        <Panel key={i} spec={p} />
      ))}

      <div style={{ position: 'absolute', left: -12, top: 30, fontFamily: SANS, fontWeight: 700, fontSize: 40, lineHeight: '38px' }}>s</div>

      <Txt x={117} y={23} size={23} family={HEAD}>Divertor profiles</Txt>
      <Txt x={820} y={27} size={23} family={HEAD}>Core profiles</Txt>

      {shotLabels.map((s, i) => (
        <Txt key={s} x={467} y={69 + i * 24.3} size={19} color={shotColors[i]} align="right">{s}</Txt>
      ))}
      {coreLabels.map((s, i) => (
        <Txt key={i} x={627} y={163 + i * 31.7} size={30} weight={700} color={coreColors[i]}>{s}</Txt>
      ))}

      <Txt x={142} y={78} size={25} align="center">(a)</Txt>
      <Txt x={149} y={319} size={25} align="center">(b)</Txt>
      <Txt x={149} y={573} size={25} align="center">(c)</Txt>
      <Txt x={887} y={69} size={25} align="center">(d)</Txt>
      <Txt x={888} y={322} size={25} align="center">(e)</Txt>
      <Txt x={889} y={570} size={25} align="center">(f)</Txt>

      <Txt x={46} y={165} size={29} rotate>
        J<Sub>sat</Sub>(A/cm<Sup>2</Sup>)
      </Txt>
      <Txt x={48} y={420} size={30} rotate>
        T<Sub>e</Sub>(eV)
      </Txt>
      <Txt x={31} y={665} size={29} rotate>
        P<Sub>e</Sub>(Pa)
      </Txt>
      <Txt x={516} y={179} size={30} rotate>
        n<Sub>e</Sub>(10<Sup>20</Sup>m<Sup>−3</Sup>)
      </Txt>
      <Txt x={531} y={405} size={30} rotate>
        T<Sub>e</Sub>(keV)
      </Txt>
      <Txt x={532} y={675} size={30} rotate>
        T<Sub>i</Sub>(keV)
      </Txt>

      <Txt x={302} y={848} size={31} family={SERIF}>
        ψ<span style={{ fontFamily: SANS, fontSize: '0.58em', position: 'relative', top: '0.35em' }}>n,out</span>
      </Txt>
      <Txt x={729} y={853} size={29} family={SERIF}>
        ρ=ψ<span style={{ fontFamily: SANS, fontSize: '0.62em', position: 'relative', top: '0.3em' }}>n</span>
        <span style={{ fontFamily: SANS, fontSize: '0.62em', position: 'relative', top: '-0.6em', marginLeft: '-0.1em' }}>1/2</span>
      </Txt>
    </div>
  );
}
